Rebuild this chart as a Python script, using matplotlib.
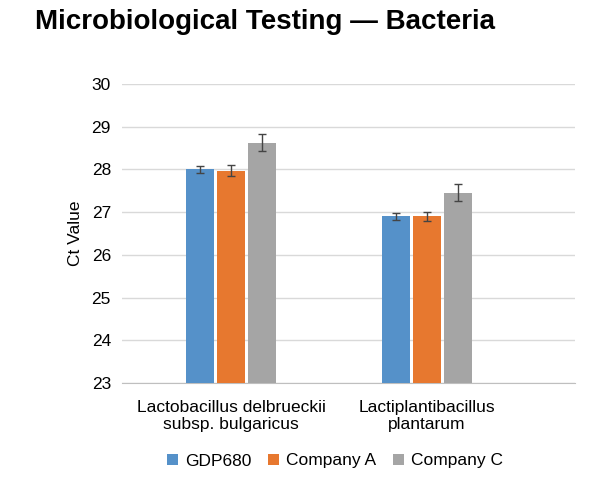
import numpy as np
import matplotlib.pyplot as plt

plt.rcParams['font.family'] = ['Liberation Sans', 'DejaVu Sans']

categories = ["Lactobacillus delbrueckii\nsubsp. bulgaricus", "Lactiplantibacillus\nplantarum"]
series = ["GDP680", "Company A", "Company C"]
values = [[28.0, 26.9], [27.97, 26.9], [28.62, 27.45]]
errors = [[0.08, 0.08], [0.13, 0.1], [0.2, 0.2]]
colors = ['#5591c9', '#e7782f', '#a5a5a5']

fig = plt.figure(figsize=(6.11, 4.8), dpi=100)
ax = fig.add_axes([122/611, 1-383/480, 453/611, 299/480])

x = np.arange(len(categories))
w = 0.143
step = 0.158
for i, name in enumerate(series):
    ax.bar(x + (i-1)*step, values[i], w, color=colors[i], label=name,
           yerr=errors[i], capsize=3, error_kw=dict(ecolor='#444444', lw=1, capthick=1), zorder=3)

ax.set_xlim(-0.556, 1.755)
ax.set_ylim(23, 30)
ax.set_yticks(range(23, 31))
ax.set_xticks(x)
ax.set_xticklabels(categories, fontsize=12.5)
ax.tick_params(axis='y', labelsize=12.5, length=0, pad=8)
ax.tick_params(axis='x', length=0, pad=12)
ax.grid(axis='y', color='#d9d9d9', lw=1, zorder=0)
for s in ['top', 'right', 'left']:
    ax.spines[s].set_visible(False)
ax.spines['bottom'].set_color('#bfbfbf')
ax.set_ylabel("Ct Value", fontsize=12.5, labelpad=6)

fig.text(35/611, 1-22/480, "Microbiological Testing \u2014 Bacteria", fontsize=20,
         fontweight='bold', va='center', ha='left')
fig.legend(loc='center', bbox_to_anchor=(335/611, 1-461/480), ncol=3, frameon=False,
           fontsize=12.5, handlelength=0.6, handleheight=0.6, columnspacing=1.0, handletextpad=0.4)

fig.savefig("out.png", dpi=100)
